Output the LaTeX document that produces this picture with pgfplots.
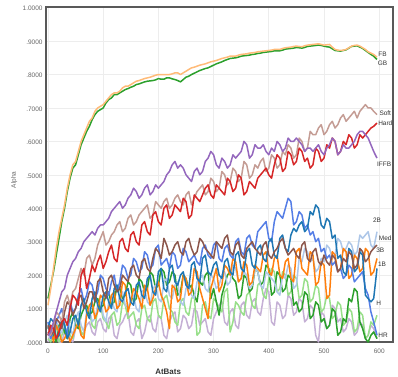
\documentclass[border=0pt]{standalone}
\usepackage{fontspec}
\setmainfont{Liberation Sans}
\usepackage{pgfplots}
\usepackage{pgfplotstable}
\pgfplotsset{compat=1.18}
\definecolor{cFB}{HTML}{FFBB78}
\definecolor{cGB}{HTML}{2CA02C}
\definecolor{cSoft}{HTML}{C49C94}
\definecolor{cHard}{HTML}{D62728}
\definecolor{cIFFB}{HTML}{9467BD}
\definecolor{cMed}{HTML}{8C564B}
\definecolor{cRoy}{HTML}{557EE6}
\definecolor{cDB}{HTML}{1F77B4}
\definecolor{cOr}{HTML}{FF7F0E}
\definecolor{cLB}{HTML}{AEC7E8}
\definecolor{cLG}{HTML}{98DF8A}
\definecolor{cLP}{HTML}{C5B0D5}
\definecolor{tickgray}{HTML}{666666}
\definecolor{labgray}{HTML}{333333}
\pgfplotstableread{
x FB GB Soft Hard IFFB Med Roy DB Or LB G2 LG LP
0 .11 .13 .03 .02 .02 .05 .06 .04 .02 .03 .04 .01 .00
5 .16 .17 .02 .05 .03 .02 .01 .07 .04 .01 .05 .00 .03
10 .22 .21 .05 .04 .06 .03 .03 .06 .00 .05 .02 .03 .02
15 .28 .26 .09 .01 .09 .07 .06 .01 .05 .07 .00 .05 .01
20 .33 .31 .08 .03 .12 .06 .08 .02 .03 .02 .05 .00 .00
25 .37 .36 .06 .06 .15 .04 .10 .07 .00 .03 .06 .02 .00
30 .41 .40 .12 .07 .16 .09 .05 .05 .01 .06 .03 .04 .03
35 .46 .45 .14 .05 .20 .12 .02 .01 .03 .08 .01 .06 .04
40 .50 .49 .11 .10 .22 .11 .12 .03 .00 .04 .07 .02 .01
45 .53 .52 .15 .14 .24 .08 .09 .07 .02 .02 .09 .01 .00
50 .54 .53 .16 .13 .25 .10 .10 .08 .04 .07 .05 .06 .04
55 .57 .56 .19 .11 .27 .13 .14 .05 .06 .09 .04 .07 .05
60 .60 .59 .22 .20 .28 .14 .16 .11 .02 .05 .08 .03 .02
65 .62 .61 .20 .22 .30 .10 .12 .13 .01 .03 .10 .02 .03
70 .64 .63 .25 .16 .31 .12 .14 .09 .08 .09 .11 .08 .05
75 .66 .645 .26 .19 .32 .15 .18 .07 .11 .10 .08 .09 .06
80 .67 .665 .23 .23 .33 .15 .17 .13 .12 .06 .09 .05 .03
85 .69 .68 .25 .21 .32 .12 .13 .15 .07 .07 .12 .04 .02
90 .70 .69 .29 .24 .34 .18 .15 .11 .09 .11 .13 .10 .06
95 .705 .695 .31 .26 .35 .19 .20 .09 .14 .12 .10 .11 .07
100 .71 .70 .33 .22 .35 .15 .19 .14 .13 .08 .11 .07 .04
105 .72 .715 .29 .24 .36 .13 .16 .15 .09 .06 .14 .06 .03
110 .73 .725 .30 .27 .37 .19 .14 .12 .10 .12 .15 .04 .07
115 .74 .73 .32 .29 .39 .20 .18 .10 .14 .13 .11 .08 .08
120 .745 .74 .33 .25 .40 .17 .20 .16 .15 .10 .12 .09 .02
125 .745 .74 .35 .24 .41 .15 .15 .17 .10 .09 .17 .05 .01
130 .75 .745 .36 .30 .42 .16 .18 .13 .11 .14 .16 .06 .05
135 .76 .75 .33 .31 .40 .20 .23 .12 .18 .15 .13 .12 .06
140 .765 .755 .34 .28 .41 .19 .22 .15 .17 .11 .14 .11 .08
145 .765 .758 .37 .27 .43 .18 .19 .16 .09 .10 .18 .07 .09
150 .77 .762 .38 .32 .44 .22 .20 .12 .12 .13 .17 .08 .03
155 .775 .765 .35 .33 .46 .23 .25 .11 .16 .14 .12 .09 .02
160 .78 .77 .36 .30 .45 .20 .24 .17 .15 .10 .13 .05 .06
165 .782 .772 .38 .29 .43 .19 .21 .18 .13 .09 .19 .04 .07
170 .785 .775 .39 .35 .44 .24 .22 .14 .10 .15 .18 .10 .01
175 .788 .778 .40 .36 .46 .25 .27 .13 .17 .16 .15 .11 .03
180 .79 .78 .41 .33 .47 .22 .26 .19 .16 .12 .16 .07 .07
185 .792 .781 .37 .32 .44 .21 .22 .20 .11 .11 .21 .06 .08
190 .795 .782 .38 .38 .45 .25 .23 .15 .13 .16 .20 .12 .04
195 .798 .784 .42 .39 .47 .28 .28 .14 .16 .17 .16 .13 .03
200 .80 .788 .41 .36 .46 .27 .29 .21 .18 .13 .17 .08 .08
205 .80 .786 .40 .35 .47 .25 .23 .22 .14 .12 .22 .07 .07
210 .80 .786 .42 .40 .48 .31 .24 .16 .12 .18 .21 .13 .02
215 .80 .79 .43 .41 .50 .29 .25 .15 .09 .19 .17 .14 .01
220 .80 .79 .40 .37 .51 .26 .22 .22 .04 .14 .18 .10 .06
225 .802 .787 .41 .38 .53 .27 .27 .23 .17 .13 .21 .09 .08
230 .805 .785 .43 .41 .54 .29 .26 .18 .16 .17 .20 .06 .09
235 .805 .782 .44 .40 .52 .30 .22 .17 .12 .18 .14 .05 .03
240 .80 .778 .42 .39 .53 .27 .23 .20 .13 .12 .15 .12 .04
245 .805 .785 .41 .43 .52 .26 .28 .21 .20 .11 .20 .13 .08
250 .81 .792 .44 .42 .50 .30 .27 .17 .19 .16 .19 .09 .07
255 .815 .795 .45 .37 .49 .31 .24 .16 .14 .17 .16 .08 .04
260 .82 .80 .41 .38 .48 .28 .25 .23 .15 .14 .17 .13 .05
265 .822 .804 .43 .44 .51 .26 .26 .24 .22 .13 .14 .14 .10
270 .825 .808 .45 .43 .52 .27 .24 .19 .21 .18 .12 .02 .09
275 .828 .812 .46 .42 .50 .31 .23 .18 .16 .19 .18 .03 .05
280 .83 .815 .47 .44 .51 .30 .28 .25 .13 .20 .17 .11 .06
285 .832 .818 .44 .46 .54 .28 .29 .26 .10 .16 .20 .12 .07
290 .835 .82 .45 .47 .55 .27 .26 .21 .07 .15 .21 .08 .03
295 .838 .824 .49 .44 .57 .26 .25 .20 .16 .20 .13 .07 .02
300 .84 .828 .48 .43 .56 .25 .29 .23 .19 .19 .16 .13 .07
305 .842 .832 .45 .47 .53 .30 .30 .24 .22 .16 .12 .12 .09
310 .845 .835 .46 .46 .52 .29 .25 .20 .15 .17 .08 .10 .11
315 .848 .838 .51 .45 .55 .28 .24 .19 .17 .20 .14 .09 .12
320 .85 .842 .50 .44 .54 .31 .28 .24 .23 .21 .17 .15 .06
325 .852 .845 .47 .49 .52 .32 .29 .25 .22 .17 .20 .16 .05
330 .855 .848 .48 .48 .53 .27 .26 .21 .20 .18 .21 .03 .09
335 .855 .849 .52 .45 .56 .26 .25 .20 .25 .23 .19 .06 .10
340 .855 .85 .51 .46 .55 .29 .30 .26 .24 .22 .18 .12 .05
345 .858 .852 .48 .50 .56 .30 .31 .27 .18 .18 .13 .11 .04
350 .86 .855 .49 .49 .57 .26 .27 .22 .19 .19 .14 .09 .11
355 .861 .856 .54 .44 .60 .25 .26 .21 .24 .21 .20 .08 .12
360 .862 .857 .53 .45 .59 .28 .31 .27 .23 .20 .19 .14 .08
365 .864 .858 .49 .48 .55 .29 .32 .28 .17 .16 .15 .15 .07
370 .865 .86 .50 .47 .56 .30 .29 .23 .18 .17 .16 .11 .12
375 .866 .861 .53 .46 .59 .28 .28 .22 .23 .22 .22 .10 .13
380 .868 .863 .52 .49 .58 .27 .33 .28 .22 .21 .21 .17 .09
385 .869 .864 .54 .50 .58 .26 .34 .29 .21 .17 .17 .18 .08
390 .87 .866 .55 .51 .59 .29 .35 .25 .26 .16 .18 .14 .13
395 .871 .867 .51 .52 .57 .30 .36 .24 .27 .21 .23 .13 .16
400 .872 .868 .52 .50 .56 .26 .31 .30 .21 .20 .22 .19 .15
405 .873 .869 .56 .49 .58 .25 .30 .31 .20 .19 .14 .22 .06
410 .875 .871 .55 .53 .57 .27 .36 .26 .25 .18 .15 .21 .05
415 .875 .871 .52 .56 .60 .28 .39 .25 .26 .15 .21 .15 .12
420 .875 .871 .53 .55 .59 .30 .38 .31 .20 .14 .20 .16 .11
425 .878 .873 .57 .51 .57 .31 .37 .32 .19 .20 .15 .21 .07
430 .88 .876 .56 .52 .58 .28 .40 .28 .24 .19 .16 .20 .08
435 .881 .877 .59 .57 .61 .26 .43 .27 .25 .23 .20 .14 .14
440 .882 .878 .58 .56 .60 .27 .42 .32 .19 .22 .19 .15 .13
445 .884 .879 .55 .53 .60 .28 .35 .34 .18 .16 .11 .20 .08
450 .885 .881 .56 .54 .61 .26 .36 .33 .27 .17 .12 .19 .09
455 .884 .88 .61 .58 .60 .25 .39 .35 .28 .25 .09 .13 .13
460 .883 .879 .60 .57 .59 .29 .38 .36 .22 .24 .10 .14 .12
465 .886 .881 .57 .54 .57 .30 .34 .33 .21 .28 .15 .19 .06
470 .888 .884 .58 .55 .58 .25 .35 .34 .20 .27 .14 .18 .07
475 .889 .885 .63 .52 .58 .24 .32 .39 .27 .24 .07 .12 .11
480 .89 .886 .62 .53 .57 .27 .33 .38 .26 .25 .08 .13 .10
485 .891 .887 .62 .58 .58 .28 .30 .41 .17 .21 .12 .17 .02
490 .892 .888 .64 .57 .59 .24 .31 .40 .18 .22 .11 .16 .00
495 .89 .887 .65 .54 .57 .23 .27 .35 .24 .25 .06 .09 .09
500 .888 .885 .62 .55 .56 .26 .28 .34 .23 .24 .07 .10 .08
505 .889 .883 .63 .59 .58 .24 .25 .37 .13 .29 .04 .14 .04
510 .89 .882 .65 .58 .59 .23 .26 .36 .14 .28 .05 .13 .05
515 .882 .877 .66 .61 .61 .26 .23 .31 .27 .25 .10 .07 .11
520 .875 .872 .64 .60 .60 .25 .24 .32 .26 .26 .09 .08 .10
525 .873 .871 .65 .56 .56 .21 .21 .25 .21 .31 .02 .12 .06
530 .872 .87 .67 .57 .57 .22 .22 .26 .22 .30 .03 .11 .07
535 .873 .872 .68 .60 .59 .25 .19 .21 .28 .27 .07 .05 .03
540 .875 .874 .66 .59 .58 .24 .20 .20 .27 .28 .06 .06 .04
545 .88 .879 .67 .62 .58 .27 .23 .28 .19 .30 .13 .10 .07
550 .885 .884 .68 .61 .59 .26 .22 .27 .20 .29 .12 .09 .06
555 .887 .885 .69 .58 .60 .22 .18 .21 .26 .26 .16 .03 .02
560 .888 .886 .67 .59 .62 .23 .19 .22 .25 .27 .15 .04 .03
565 .885 .882 .69 .62 .63 .28 .20 .27 .21 .32 .06 .09 .06
570 .88 .878 .70 .61 .63 .27 .21 .26 .22 .31 .04 .08 .05
575 .875 .872 .71 .62 .62 .24 .16 .14 .28 .32 .01 .01 .01
580 .868 .866 .70 .63 .61 .25 .14 .13 .27 .33 .00 .02 .02
585 .864 .86 .70 .64 .59 .27 .09 .12 .20 .29 .02 .06 .05
590 .86 .855 .69 .645 .57 .28 .06 .13 .21 .28 .03 .05 .04
596 .852 .845 .68 .655 .55 .29 .02 .22 .25 .33 .01 .08 .01
}\datatable
\begin{document}
\begin{tikzpicture}[x=1bp,y=1bp]
\useasboundingbox (0,0) rectangle (398,377);
\begin{axis}[
  at={(46bp,35bp)}, anchor=south west,
  scale only axis, width=347bp, height=335bp,
  xmin=-3.6, xmax=625, ymin=0, ymax=1.002,
  xtick={0,100,...,600},
  ytick={0,0.1,...,1.0},
  yticklabels={.0000,.1000,.2000,.3000,.4000,.5000,.6000,.7000,.8000,.9000,1.0000},
  /pgf/number format/assume math mode=true,
  ticklabel style={font=\fontsize{6.5}{7}\selectfont, text=tickgray},
  xticklabel style={yshift=-3bp},
  yticklabel style={yshift=-1bp},
  major tick length=0pt,
  grid=major,
  major grid style={draw=black!7, line width=0.6bp},
  axis line style={draw=black!65, line width=1.3bp},
  xlabel={\textbf{AtBats}},
  xlabel style={at={(axis description cs:0.352,-0.09)}, anchor=center, font=\fontsize{8}{9}\selectfont, text=labgray},
  ylabel={Alpha},
  ylabel style={at={(axis description cs:-0.092,0.484)}, anchor=center, font=\fontsize{6.5}{7}\selectfont, text=tickgray},
  every axis plot/.append style={line width=1.5bp, mark=none, line join=round},
  clip=true,
]
\addplot[cLP] table[x=x,y=LP]{\datatable};
\addplot[cLG] table[x=x,y=LG]{\datatable};
\addplot[cGB] table[x=x,y=G2]{\datatable};
\addplot[cLB] table[x=x,y=LB]{\datatable};
\addplot[cOr] table[x=x,y=Or]{\datatable};
\addplot[cRoy] table[x=x,y=Roy]{\datatable};
\addplot[cDB] table[x=x,y=DB]{\datatable};
\addplot[cMed] table[x=x,y=Med]{\datatable};
\addplot[cSoft] table[x=x,y=Soft]{\datatable};
\addplot[cHard] table[x=x,y=Hard]{\datatable};
\addplot[cIFFB] table[x=x,y=IFFB]{\datatable};
\addplot[cGB] table[x=x,y=GB]{\datatable};
\addplot[cFB] table[x=x,y=FB]{\datatable};
\begin{scope}[every node/.style={font=\fontsize{6.5}{7}\selectfont, text=labgray, inner sep=0pt}]
\node at (axis cs:606,0.861) {FB};
\node at (axis cs:606,0.834) {GB};
\node at (axis cs:611,0.684) {Soft};
\node at (axis cs:611,0.654) {Hard};
\node at (axis cs:609,0.531) {IFFB};
\node at (axis cs:596,0.364) {2B};
\node at (axis cs:611,0.310) {Med};
\node at (axis cs:602,0.275) {3B};
\node at (axis cs:605,0.233) {1B};
\node at (axis cs:599,0.115) {H};
\node at (axis cs:607,0.020) {HR};
\end{scope}
\end{axis}
\end{tikzpicture}
\end{document}
